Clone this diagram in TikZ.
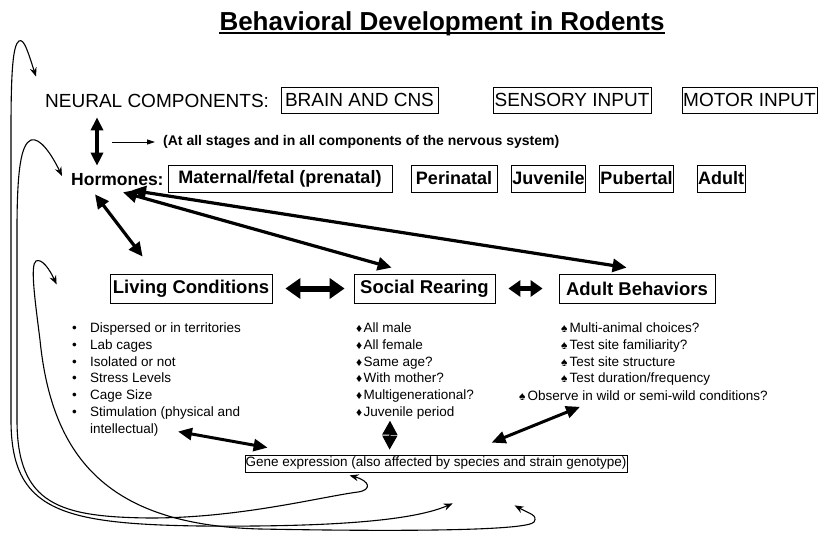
\documentclass[tikz,border=0pt]{standalone}
\usepackage{fontspec}
\setmainfont{Liberation Sans}
\usetikzlibrary{arrows.meta,calc}

\tikzset{
  neurbox/.style={draw, line width=0.8pt, inner sep=1pt, minimum height=26pt, font=\fontsize{19}{21}\selectfont},
  stagebox/.style={draw, line width=0.8pt, inner sep=1pt, minimum height=27pt, font=\bfseries\fontsize{18}{20}\selectfont},
  mainbox/.style={draw, line width=0.8pt, inner sep=1pt, minimum height=29pt, font=\bfseries\fontsize{18.5}{21}\selectfont},
  itemlist/.style={inner sep=0pt, anchor=base west, font=\fontsize{13.5}{16.8}\selectfont},
  bigarrow/.style={line width=3.2pt, {Triangle[length=14pt,width=13pt]}-{Triangle[length=14pt,width=13pt]}},
  fatarrow/.style={line width=6pt, {Triangle[length=15pt,width=20pt]}-{Triangle[length=15pt,width=20pt]}},
  loopcurve/.style={line width=1.1pt, {Stealth[length=9pt,width=7pt]}-{Stealth[length=9pt,width=7pt]}},
}
\newcommand{\dmd}{\makebox[7.5pt][l]{\fontsize{12}{12}\selectfont ♦}}
\newcommand{\spd}{\makebox[8.5pt][l]{\fontsize{12}{12}\selectfont ♠}}

\begin{document}
\begin{tikzpicture}[x=1pt, y=-1pt]
    \useasboundingbox (0,0) rectangle (822,533);

    % Title
    \node[font=\bfseries\fontsize{26}{30}\selectfont, inner sep=0, anchor=base] (title) at (442,30) {Behavioral Development in Rodents};
    \draw[line width=1.6pt] ($(title.base west)+(0,3)$) -- ($(title.base east)+(0,3)$);

    % Neural components
    \node[font=\fontsize{19}{21}\selectfont, inner sep=0, anchor=base west] (neural) at (45,107) {NEURAL COMPONENTS:};
    \node[neurbox, minimum width=157pt] (brain) at (359.5,100) {BRAIN AND CNS};
    \node[neurbox, minimum width=158pt] (sensory) at (572,100) {SENSORY INPUT};
    \node[neurbox, minimum width=135pt] (motor) at (749.5,100) {MOTOR INPUT};

    % Note
    \node[font=\bfseries\fontsize{14}{16}\selectfont, inner sep=0, anchor=west] (note) at (163,142) {(At all stages and in all components of the nervous system)};
    \draw[line width=0.8pt, -{Triangle[length=8pt,width=5pt]}] ($(note.west)+(-51,0)$) -- ($(note.west)+(-8,0)$);

    % Hormones
    \node[font=\bfseries\fontsize{17.5}{20}\selectfont, inner sep=0, anchor=west] (horm) at (71,180) {Hormones:};
    \node[stagebox, minimum width=224pt] (maternal) at (280,178.5) {Maternal/fetal (prenatal)};
    \node[stagebox, minimum width=86pt] (perinatal) at (454,178.5) {Perinatal};
    \node[stagebox, minimum width=71pt] (juvenile) at (548.5,178.5) {Juvenile};
    \node[stagebox, minimum width=73pt] (pubertal) at (636.5,178.5) {Pubertal};
    \node[stagebox, minimum width=48pt] (adultst) at (721,178.5) {Adult};

    \draw[line width=3.5pt, {Triangle[length=13pt,width=12pt]}-{Triangle[length=13pt,width=12pt]}] ($(neural.south west)+(52,10)$) -- ($(horm.north west)+(26,-8)$);

    % Main boxes
    \node[mainbox, minimum width=162pt] (living) at (191,288.5) {Living Conditions};
    \node[mainbox, minimum width=141pt] (social) at (424.5,288.5) {Social Rearing};
    \node[mainbox, minimum width=156pt] (adult) at (637,288.5) {Adult Behaviors};

    \draw[bigarrow] ($(horm.south west)+(24,8)$) -- ($(living.north west)+(33,-17)$);
    \draw[bigarrow] ($(horm.south west)+(52,6)$) -- ($(social.north west)+(38,-6)$);
    \draw[bigarrow] ($(horm.south west)+(61,4)$) -- ($(adult.north west)+(68,-6)$);

    \draw[fatarrow] ($(living.east)+(13,0)$) -- ($(social.west)+(-9,0)$);
    \draw[line width=5pt, {Triangle[length=12pt,width=16pt]}-{Triangle[length=12pt,width=16pt]}] ($(social.east)+(13,0)$) -- ($(adult.west)+(-16,0)$);

    % Lists
    \node[itemlist] (livlist) at (72,332.5) {\begin{tabular}[t]{@{}l@{}l@{}}
        \makebox[18pt][l]{•} & Dispersed or in territories\\
        \makebox[18pt][l]{•} & Lab cages\\
        \makebox[18pt][l]{•} & Isolated or not\\
        \makebox[18pt][l]{•} & Stress Levels\\
        \makebox[18pt][l]{•} & Cage Size\\
        \makebox[18pt][l]{•} & Stimulation (physical and\\
         & intellectual)
        \end{tabular}};
    \node[itemlist] (soclist) at (356,332.5) {\begin{tabular}[t]{@{}l@{}l@{}}
        \dmd & All male\\
        \dmd & All female\\
        \dmd & Same age?\\
        \dmd & With mother?\\
        \dmd & Multigenerational?\\
        \dmd & Juvenile period
        \end{tabular}};
    \node[itemlist] (adlist) at (561,332.5) {\begin{tabular}[t]{@{}l@{}l@{}}
        \spd & Multi-animal choices?\\
        \spd & Test site familiarity?\\
        \spd & Test site structure\\
        \spd & Test duration/frequency
        \end{tabular}};
    \node[itemlist] (obsline) at (519,400.5) {\spd Observe in wild or semi-wild conditions?};

    % Gene expression
    \node[draw, line width=0.8pt, inner sep=0pt, minimum width=382pt, minimum height=17pt, font=\fontsize{13.5}{15}\selectfont] (gene) at (436,463.5) {Gene expression (also affected by species and strain genotype)};

    \draw[line width=3pt, {Triangle[length=14pt,width=12pt]}-{Triangle[length=14pt,width=12pt]}] ($(livlist.south west)+(106,-7)$) -- ($(gene.north west)+(23,-7)$);
    \draw[line width=1.5pt, {Triangle[length=14pt,width=15pt]}-{Triangle[length=14pt,width=15pt]}] ($(soclist.south west)+(34,-1)$) -- ($(gene.north west)+(145,-5)$);
    \draw[line width=3pt, {Triangle[length=14pt,width=12pt]}-{Triangle[length=14pt,width=12pt]}] ($(obsline.south west)+(61,6)$) -- ($(gene.north west)+(247,-12)$);

    % Feedback loops
    \draw[loopcurve] ($(neural.north west)+(-9,-17)$) .. controls (28,52) and (24,38) .. (19,41)
        .. controls (13,45) and (11,70) .. (11,130) -- (11,420)
        .. controls (11,510) and (60,524) .. (200,526)
        .. controls (320,527) and (410,522) .. ($(gene.south west)+(208,31)$);
    \draw[loopcurve] ($(horm.west)+(-9,-4)$) .. controls (52,155) and (40,137) .. (31,140)
        .. controls (21,144) and (17,170) .. (17,230) -- (17,420)
        .. controls (17,505) and (60,517) .. (150,518)
        .. controls (240,518) and (320,497) .. (358,492)
        .. controls (372,490) and (370,481) .. ($(gene.south west)+(105,3)$);
    \draw[loopcurve] ($(living.west)+(-53,-4)$) .. controls (50,270) and (42,258) .. (36,261)
        .. controls (30,265) and (35,300) .. (40,340)
        .. controls (52,460) and (110,525) .. (260,529)
        .. controls (420,532) and (528,530) .. (534,522)
        .. controls (538,515) and (530,514) .. ($(gene.south west)+(270,33)$);

\end{tikzpicture}
\end{document}
